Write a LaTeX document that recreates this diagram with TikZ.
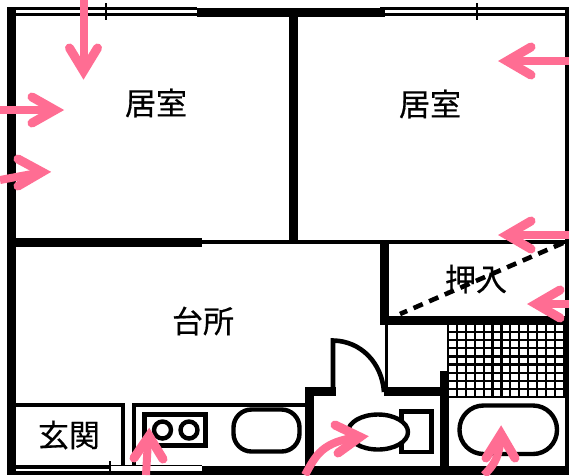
\documentclass[tikz,border=0pt]{standalone}
\usepackage{fontspec}
\newfontfamily\jpfont[FakeBold=0.4]{Noto Sans CJK JP}
\definecolor{pinkarrow}{HTML}{FF6D93}
\tikzset{
  wall/.style={line width=8.5pt,line cap=butt},
  midline/.style={line width=4pt,line cap=butt},
  thinline/.style={line width=2.2pt,line cap=butt},
  fixture/.style={line width=4.4pt,fill=white},
  label/.style={font=\jpfont\fontsize{31}{31}\selectfont,inner sep=0pt,text=black},
  shaft/.style={draw=pinkarrow,line width=8pt,line cap=butt},
  barb/.style={draw=pinkarrow,line width=9pt,line cap=round,line join=miter,miter limit=10},
}
\begin{document}
\begin{tikzpicture}[x=1pt,y=-1pt]
\useasboundingbox (0,0) rectangle (569,475);
\fill[white] (0,0) rectangle (569,475);
% grid
\foreach \x in {448,456.9,...,566}{\draw[thinline] (\x,324) -- (\x,397);}
\foreach \y in {324,332.1,...,398}{\draw[thinline] (447,\y) -- (566,\y);}
% outer
\draw[wall,line width=9pt] (11,7) -- (11,475);
\draw[thinline,line width=3.4pt] (7,8.7) -- (197,8.7) (15,14.6) -- (197,14.6);
\draw[thinline,line width=2.4pt] (106,3) -- (106,20);
\draw[wall] (197,12.5) -- (385,12.5);
\draw[thinline,line width=3.4pt] (380,8.3) -- (567,8.3) (385,14.6) -- (567,14.6);
\draw[thinline,line width=2.4pt] (477,3) -- (477,20);
\draw[thinline,line width=4.6pt] (567,7) -- (567,475);
% rooms
\draw[wall,line width=9.5pt] (293.5,14) -- (293.5,241);
\draw[wall,line width=9pt] (15,242) -- (202,242);
\draw[midline] (202,242) -- (567,242);
% closet
\draw[wall] (384.5,242) -- (384.5,324);
\draw[wall] (380,320.5) -- (567,320.5);
% small cupboard / door
\draw[midline,line width=3pt] (386,324) -- (386,392);
\draw[wall] (384,391.5) -- (448,391.5);
\draw[wall] (444.5,371) -- (444.5,472);
\draw[wall] (309.5,388) -- (309.5,472);
\draw[wall] (305,391.5) -- (336,391.5);
\draw[line width=4.6pt] (333,393) -- (333,340.5) .. controls (361,341) and (382,363) .. (384,392);
% bottom
\draw[wall] (202,470.5) -- (569,470.5);
\draw[midline,line width=4pt] (15,466.7) -- (110,466.7);
\draw[line width=1.2pt] (110,465.5) -- (202,465.5);
\draw[midline,line width=3.6pt] (15,472.8) -- (202,472.8);
\draw[thinline] (110,461) -- (110,475);
% genkan and kitchen
\draw[midline] (15,404.5) -- (124,404.5);
\draw[midline] (122.5,403) -- (122.5,466);
\draw[midline] (133.5,403) -- (133.5,466);
\draw[midline] (132,404.5) -- (307,404.5);
% stove
\draw[fixture] (144.5,414.5) rectangle (205.5,445.5);
\draw[fixture] (162.5,430) circle (8.5);
\draw[fixture] (189,430) circle (8.5);
% sink
\draw[fixture,rounded corners=18pt] (233.5,409.5) rectangle (299.5,451.5);
% toilet
\draw[fixture] (401.5,411.5) rectangle (431.5,452);
\draw[fixture] (378,432) ellipse (30 and 17.5);
% tub
\draw[fixture,rounded corners=24pt] (459.5,405.5) rectangle (557,454);
% labels
\node[label] (room1) at (156,103) {居室};
\node[label] (room2) at (430,104) {居室};
\node[label] (kitchen) at (203,321) {台所};
\node[label] (entry) at (69,435) {玄関};
\node[label] (closet) at (476,279) {押入};
% dashed
\draw[line width=4.6pt,dash pattern=on 10pt off 7pt] (563,243) -- (400,314);
% arrows
\draw[shaft] (84,0) -- (84,72);
\draw[barb] (69.5,48) -- (83.5,71) -- (97.5,48);
\draw[shaft] (0,109.5) -- (55,109.5);
\draw[barb] (32,97) -- (55,110) -- (32,123);
\draw[shaft] (0,180) -- (40,172.5);
\draw[barb] (18,159) -- (42,172) -- (18,186);
\draw[shaft] (569,61) -- (510,61);
\draw[barb] (531,47) -- (507,61) -- (531,75);
\draw[shaft] (569,235) -- (510,235);
\draw[barb] (531,221) -- (507,235) -- (531,249);
\draw[shaft] (569,304) -- (540,304);
\draw[barb] (560,290) -- (536,304) -- (560,318);
\draw[shaft] (146,475) -- (148,440);
\draw[barb] (134,458) -- (149,436) -- (163,459);
\draw[shaft] (305,475) .. controls (316,455) and (322,442) .. (358,437);
\draw[barb] (335,425) -- (360,437) -- (338,453);
\draw[shaft] (484,475) .. controls (497,462) and (499,455) .. (501,435);
\draw[barb] (486,458) -- (501,434) -- (515,458);
\end{tikzpicture}
\end{document}
